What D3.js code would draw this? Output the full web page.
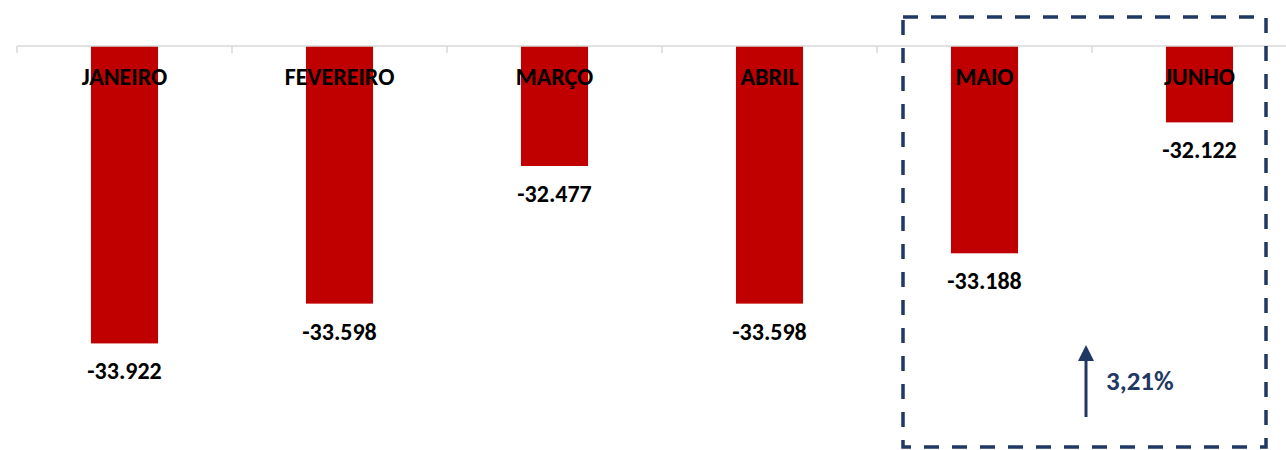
<!DOCTYPE html>
<html>
<head>
<meta charset="utf-8">
<script src="https://cdn.jsdelivr.net/npm/d3@7"></script>
<style>
  body { margin: 0; background: #fff; }
  text { font-family: Carlito, Calibri, Lato, "Open Sans", sans-serif; font-weight: bold; }
</style>
</head>
<body>
<div id="chart"></div>
<script>
// months and values (saldo, in units)
var months = ["JANEIRO", "FEVEREIRO", "MARÇO", "ABRIL", "MAIO", "JUNHO"];
var values = [-33922, -33598, -32477, -33598, -33188, -32122];
var yDomain = [-31500, -34000];

var width = 1286, height = 450;

var ptBR = d3.formatLocale({decimal: ",", thousands: ".", grouping: [3], currency: ["R$", ""], minus: "-"});
var fmtNum = ptBR.format(",d");
var fmtPct = ptBR.format(".2%");

var svg = d3.select("#chart")
  .append("svg")
  .attr("width", width)
  .attr("height", height);

var x = d3.scaleBand()
  .domain(months)
  .range([17, 17 + 215 * 6])
  .paddingInner(0.688)
  .paddingOuter(0.344);

var y = d3.scaleLinear()
  .domain(yDomain)
  .range([46, 353]);

var data = months.map(function(m, i) { return {month: m, value: values[i]}; });

// bars hang down from the axis
svg.selectAll("rect.bar")
  .data(data)
  .enter()
  .append("rect")
  .attr("class", "bar")
  .attr("x", function(d) { return x(d.month); })
  .attr("width", x.bandwidth())
  .attr("y", y(yDomain[0]))
  .attr("height", function(d) { return y(d.value) - y(yDomain[0]); })
  .attr("fill", "#C00000");

// category axis on top, ticks between categories
var axisG = svg.append("g");
axisG.append("line")
  .attr("x1", 17).attr("x2", width)
  .attr("y1", y(yDomain[0])).attr("y2", y(yDomain[0]))
  .attr("stroke", "#d9d9d9")
  .attr("stroke-width", 1.5);
axisG.selectAll("line.tick")
  .data(d3.range(months.length + 1))
  .enter()
  .append("line")
  .attr("class", "tick")
  .attr("x1", function(i) { return 17 + x.step() * i; })
  .attr("x2", function(i) { return 17 + x.step() * i; })
  .attr("y1", y(yDomain[0]))
  .attr("y2", y(yDomain[0]) + 7)
  .attr("stroke", "#d9d9d9")
  .attr("stroke-width", 1.5);

// month names
svg.selectAll("text.cat")
  .data(data)
  .enter()
  .append("text")
  .attr("class", "cat")
  .attr("x", function(d) { return x(d.month) + x.bandwidth() / 2; })
  .attr("y", 85)
  .attr("text-anchor", "middle")
  .attr("font-size", 24)
  .attr("fill", "#000")
  .text(function(d) { return d.month; });

// value labels under the bars
svg.selectAll("text.val")
  .data(data)
  .enter()
  .append("text")
  .attr("class", "val")
  .attr("x", function(d) { return x(d.month) + x.bandwidth() / 2; })
  .attr("y", function(d) { return y(d.value) + 36; })
  .attr("text-anchor", "middle")
  .attr("font-size", 24)
  .attr("fill", "#000")
  .text(function(d) { return fmtNum(d.value); });

// highlight box around MAIO / JUNHO
var navy = "#1F3864";
svg.append("rect")
  .attr("x", 903).attr("y", 17)
  .attr("width", 363).attr("height", 430)
  .attr("fill", "none")
  .attr("stroke", navy)
  .attr("stroke-width", 3.5)
  .attr("stroke-dasharray", "15,13");

// arrow + variation
var defs = svg.append("defs");
defs.append("marker")
  .attr("id", "head")
  .attr("viewBox", "0 0 10 10")
  .attr("refX", 0).attr("refY", 5)
  .attr("markerWidth", 16).attr("markerHeight", 16)
  .attr("markerUnits", "userSpaceOnUse")
  .attr("orient", "auto")
  .append("path")
  .attr("d", "M0,0 L10,5 L0,10 Z")
  .attr("fill", navy);

svg.append("line")
  .attr("x1", 1086).attr("x2", 1086)
  .attr("y1", 417).attr("y2", 361)
  .attr("stroke", navy)
  .attr("stroke-width", 3)
  .attr("marker-end", "url(#head)");

var pct = (values[5] - values[4]) / Math.abs(values[4]);
svg.append("text")
  .attr("x", 1106)
  .attr("y", 390)
  .attr("font-size", 27)
  .attr("fill", navy)
  .text(fmtPct(pct));
</script>
</body>
</html>
